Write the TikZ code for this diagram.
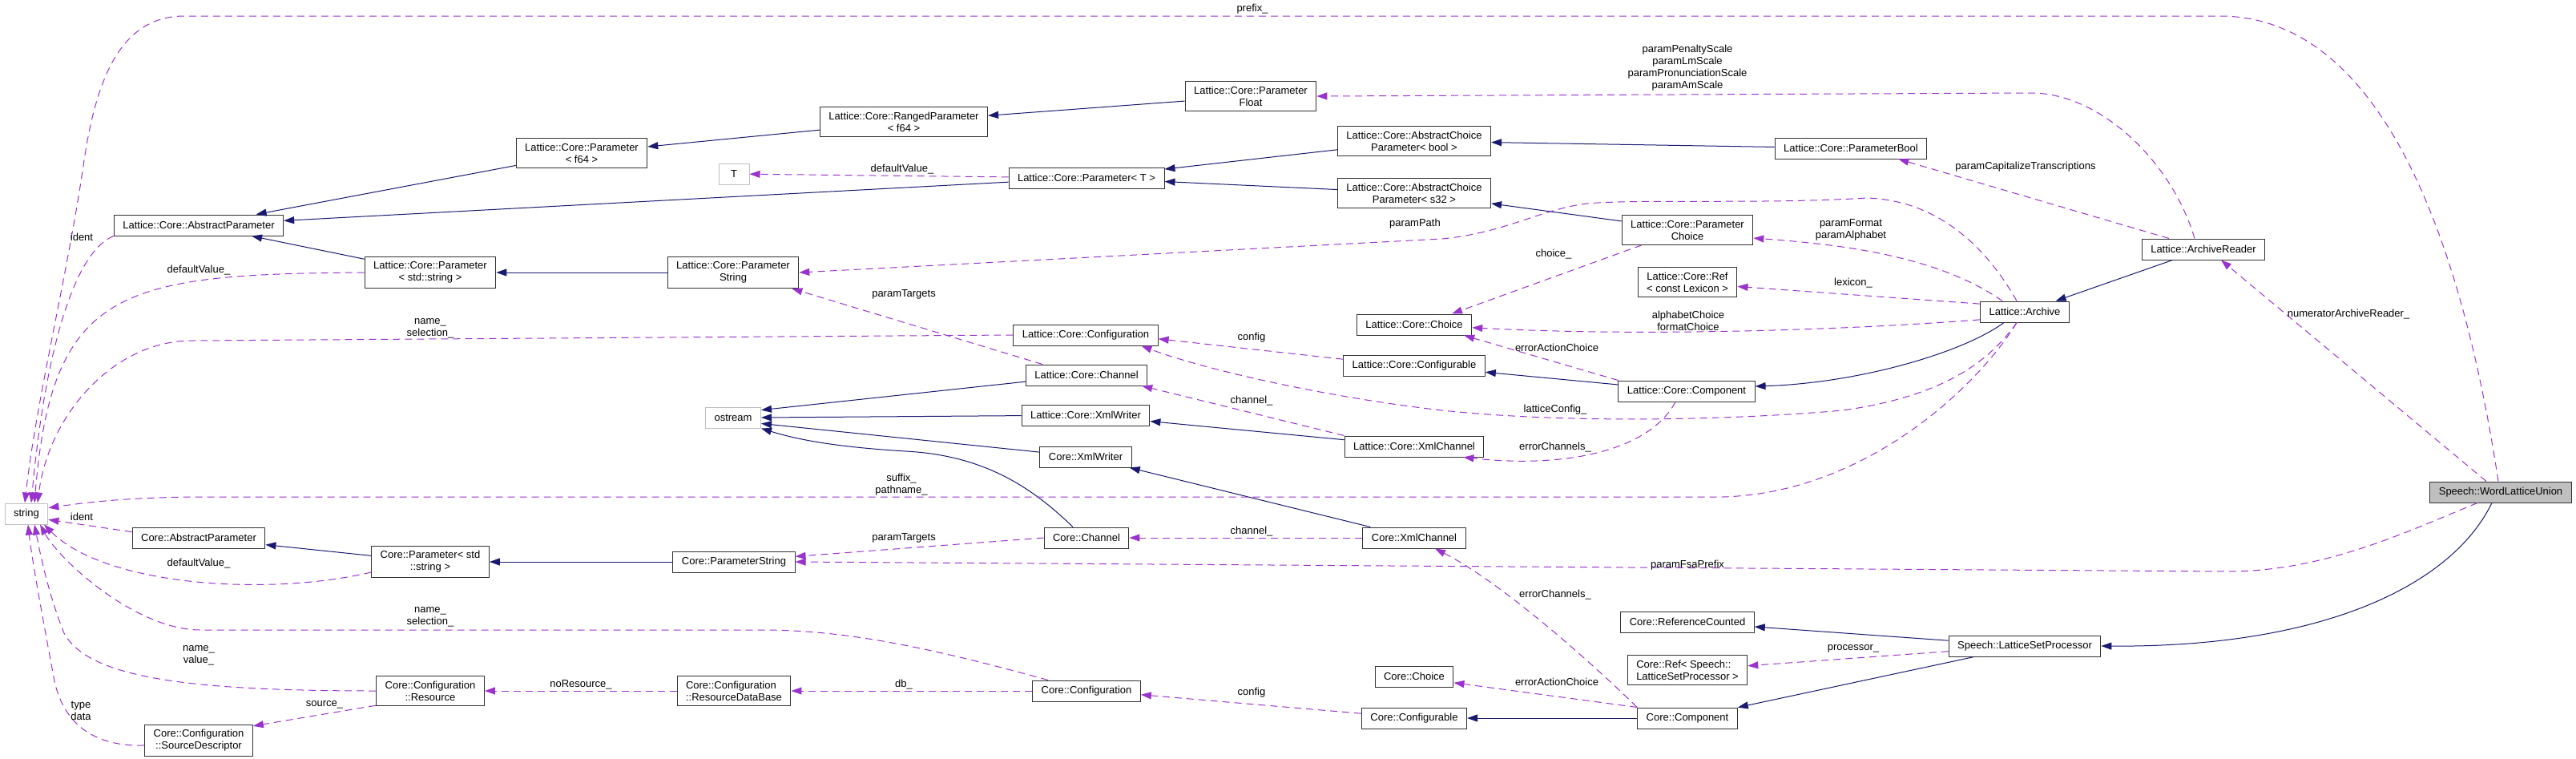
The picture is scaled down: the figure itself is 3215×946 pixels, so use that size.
\documentclass[tikz,border=0pt]{standalone}
\usepackage{fontspec}
\setmainfont{Liberation Sans}
\usetikzlibrary{arrows.meta}
\definecolor{navyedge}{RGB}{25,25,112}
\definecolor{orchid}{RGB}{154,50,205}
\definecolor{frame}{RGB}{50,50,50}
\definecolor{ghost}{RGB}{191,191,191}
\tikzset{
  cls/.style={draw=frame,fill=white,line width=1pt,inner xsep=11pt,inner ysep=6pt,
    minimum height=26pt,align=center,font=\fontsize{13}{15}\selectfont},
  ext/.style={cls,draw=ghost},
  focus/.style={cls,fill=ghost},
  inherit/.style={draw=navyedge,line width=1pt,-{Triangle[length=13pt,width=9pt]}},
  uses/.style={draw=orchid,line width=1pt,dash pattern=on 9pt off 6pt,
    -{Triangle[length=13pt,width=9pt]}},
  lbl/.style={font=\fontsize{13}{15}\selectfont,align=center,inner sep=0pt},
}

\begin{document}
\begin{tikzpicture}[x=1pt,y=-1pt]
  \useasboundingbox (0,0) rectangle (3215,946);
  % Lattice classes
  \node[cls] (latAbsParam) at (248,281) {Lattice::Core::AbstractParameter};
  \node[cls] (latParamF64) at (726,191) {Lattice::Core::Parameter\\< f64 >};
  \node[cls] (latRanged) at (1128,152) {Lattice::Core::RangedParameter\\< f64 >};
  \node[cls] (latParamFloat) at (1561,120) {Lattice::Core::Parameter\\Float};
  \node[ext,minimum width=38pt] (tType) at (916,217) {T};
  \node[cls] (latParamT) at (1356,222) {Lattice::Core::Parameter< T >};
  \node[cls] (latChoiceBool) at (1765,176) {Lattice::Core::AbstractChoice\\Parameter< bool >};
  \node[cls] (latChoiceInt) at (1765,241) {Lattice::Core::AbstractChoice\\Parameter< s32 >};
  \node[cls] (latParamBool) at (2310,185) {Lattice::Core::ParameterBool};
  \node[cls] (latParamChoice) at (2106,287) {Lattice::Core::Parameter\\Choice};
  \node[cls] (latParamStd) at (537,340) {Lattice::Core::Parameter\\< std::string >};
  \node[cls] (latParamString) at (915,340) {Lattice::Core::Parameter\\String};
  \node[cls] (latConfiguration) at (1355,418) {Lattice::Core::Configuration};
  \node[cls] (latChannel) at (1356,468) {Lattice::Core::Channel};
  \node[ext] (ostream) at (915,521) {ostream};
  \node[cls] (latXmlWriter) at (1355,518) {Lattice::Core::XmlWriter};
  \node[cls] (coreXmlWriter) at (1355,570) {Core::XmlWriter};
  \node[cls] (latRef) at (2106,352) {Lattice::Core::Ref\\< const Lexicon >};
  \node[cls] (latChoice) at (1765,405) {Lattice::Core::Choice};
  \node[cls] (latConfigurable) at (1765,456) {Lattice::Core::Configurable};
  \node[cls] (latComponent) at (2105,488) {Lattice::Core::Component};
  \node[cls] (latXmlChannel) at (1765,557) {Lattice::Core::XmlChannel};
  \node[cls] (latArchive) at (2527,389) {Lattice::Archive};
  \node[cls] (latArchiveReader) at (2750,311) {Lattice::ArchiveReader};
  \node[focus] (wordLattice) at (3121,614) {Speech::WordLatticeUnion};
  % Core classes
  \node[ext] (stdString) at (33,641) {string};
  \node[cls] (coreAbsParam) at (248,671) {Core::AbstractParameter};
  \node[cls] (coreParamStd) at (537,701) {Core::Parameter< std\\::string >};
  \node[cls] (coreResource) at (537,862) {Core::Configuration\\::Resource};
  \node[cls] (coreSource) at (248,924) {Core::Configuration\\::SourceDescriptor};
  \node[cls] (coreChannel) at (1356,671) {Core::Channel};
  \node[cls] (coreParamString) at (916,701) {Core::ParameterString};
  \node[cls,align=left] (coreResourceDB) at (916,862) {Core::Configuration\\::ResourceDataBase};
  \node[cls] (coreConfiguration) at (1356,862) {Core::Configuration};
  \node[cls] (coreXmlChannel) at (1765,671) {Core::XmlChannel};
  \node[cls] (coreRefCounted) at (2106,776) {Core::ReferenceCounted};
  \node[cls,align=left] (coreRef) at (2106,836) {Core::Ref< Speech::\\LatticeSetProcessor >};
  \node[cls] (coreChoice) at (1765,844) {Core::Choice};
  \node[cls] (coreConfigurable) at (1765,896) {Core::Configurable};
  \node[cls] (coreComponent) at (2106,896) {Core::Component};
  \node[cls] (latticeSetProc) at (2527,806) {Speech::LatticeSetProcessor};

  % inheritance
  \draw[inherit] (latParamF64) -- (latAbsParam);
  \draw[inherit] (latParamT) -- (latAbsParam);
  \draw[inherit] (latParamStd) -- (latAbsParam);
  \draw[inherit] (latRanged) -- (latParamF64);
  \draw[inherit] (latParamFloat) -- (latRanged);
  \draw[inherit] (latChoiceBool) -- (latParamT);
  \draw[inherit] (latChoiceInt) -- (latParamT);
  \draw[inherit] (latParamBool) -- (latChoiceBool);
  \draw[inherit] (latParamChoice) -- (latChoiceInt);
  \draw[inherit] (latParamString) -- (latParamStd);
  \draw[inherit] (latChannel) -- (ostream.15);
  \draw[inherit] (latXmlWriter) -- (ostream.east);
  \draw[inherit] (coreXmlWriter) -- (ostream.-12);
  \draw[inherit] ([xshift=-17pt]coreChannel.north) .. controls (1290,610) and (1230,568) .. (1130,563)
    .. controls (1050,558) and (1000,550) .. (ostream.south east);
  \draw[inherit] (latXmlChannel) -- (latXmlWriter);
  \draw[inherit] (coreXmlChannel) -- (coreXmlWriter);
  \draw[inherit] (latComponent) -- (latConfigurable);
  \draw[inherit] ([xshift=-26pt]latArchive.south) .. controls (2450,440) and (2320,478) .. (latComponent.4);
  \draw[inherit] (latArchiveReader) -- (latArchive);
  \draw[inherit] (coreParamStd) -- (coreAbsParam);
  \draw[inherit] (coreParamString) -- (coreParamStd);
  \draw[inherit] (coreComponent) -- (coreConfigurable);
  \draw[inherit] (latticeSetProc) -- (coreRefCounted);
  \draw[inherit] (latticeSetProc) -- (coreComponent);
  \draw[inherit] ([xshift=-11pt]wordLattice.south) .. controls (3060,730) and (2900,808) .. (latticeSetProc.east);

  % members
  \draw[uses] ([xshift=-3pt]wordLattice.north) .. controls (3080,350) and (2990,20) .. (2770,20) -- (230,20)
    .. controls (150,20) and (120,100) .. (105,200) .. controls (85,340) and (45,500) .. ([xshift=-2pt]stdString.north);
  \draw[uses] (latAbsParam.south west) .. controls (90,315) and (55,450) .. ([xshift=6pt]stdString.north);
  \draw[uses] (latParamStd.west) .. controls (150,342) and (65,360) .. ([xshift=10pt]stdString.north);
  \draw[uses] (latConfiguration.west) -- (240,425) .. controls (140,425) and (60,520) .. ([xshift=14pt]stdString.north);
  \draw[uses] (latParamT) -- (tType);
  \draw[uses] ([xshift=-11pt]latArchiveReader.north) .. controls (2710,200) and (2620,116) .. (2535,116) -- (latParamFloat.east);
  \draw[uses] ([xshift=-43pt]latArchiveReader.north) -- ([xshift=-36pt]latParamBool.south east);
  \draw[uses] ([xshift=-10pt]latArchive.north) .. controls (2480,310) and (2420,250) .. (2330,247)
    .. controls (2200,255) and (2050,248) .. (1980,254) .. controls (1920,262) and (1880,290) .. (1800,298)
    -- (latParamString.east);
  \draw[uses] ([xshift=-28pt]latArchive.north) .. controls (2420,320) and (2300,305) .. (latParamChoice.-7);
  \draw[uses] ([xshift=-57pt]latParamChoice.south) -- ([xshift=47pt]latChoice.north);
  \draw[uses] (latArchive.170) -- (latRef.-5);
  \draw[uses] (latArchive.-170) .. controls (2300,412) and (2050,420) .. (latChoice.-3);
  \draw[uses] (latComponent.north west) -- ([xshift=-10pt]latChoice.south east);
  \draw[uses] (latConfigurable.175) -- (latConfiguration.-3);
  \draw[uses] ([xshift=-10pt]latArchive.south) .. controls (2480,455) and (2420,495) .. (2300,512)
    .. controls (2150,525) and (1950,528) .. (1800,512) .. controls (1650,495) and (1500,460) .. (latConfiguration.-11);
  \draw[uses] ([xshift=-55pt]latChannel.north) -- ([xshift=-9pt]latParamString.south east);
  \draw[uses] (latXmlChannel.north west) -- ([xshift=-7pt]latChannel.south east);
  \draw[uses] ([xshift=-14pt]latComponent.south) .. controls (2060,560) and (1960,585) .. ([xshift=-26pt]latXmlChannel.south east);
  \draw[uses] ([xshift=-10pt]latArchive.south) .. controls (2470,480) and (2330,615) .. (2150,620) -- (240,620)
    .. controls (150,621) and (100,628) .. (stdString.15);
  \draw[uses] ([xshift=-18pt]wordLattice.north) -- ([xshift=22pt]latArchiveReader.south);
  \draw[uses] ([xshift=-29pt]wordLattice.south) .. controls (3000,665) and (2900,713) .. (2780,713) -- (coreParamString.east);
  \draw[uses] (coreChannel.west) -- (coreParamString.5);
  \draw[uses] (coreXmlChannel.west) -- (coreChannel.east);
  \draw[uses] (coreComponent.north west) .. controls (2000,840) and (1880,730) .. ([xshift=26pt]coreXmlChannel.south);
  \draw[uses] (coreComponent.north west) -- (coreChoice.-9);
  \draw[uses] (coreConfigurable.175) -- (coreConfiguration.-4);
  \draw[uses] (coreConfiguration.west) -- (coreResourceDB.east);
  \draw[uses] ([xshift=-48pt]coreConfiguration.north) .. controls (1150,805) and (1050,786) .. (950,786) -- (250,786)
    .. controls (170,786) and (75,700) .. ([xshift=17pt]stdString.south);
  \draw[uses] (coreAbsParam.175) -- (stdString.-15);
  \draw[uses] (coreParamStd.-170) .. controls (330,745) and (130,730) .. ([xshift=22pt]stdString.south);
  \draw[uses] (coreResource.west) .. controls (230,862) and (110,845) .. (80,790)
    .. controls (60,740) and (50,690) .. ([xshift=10pt]stdString.south);
  \draw[uses] (coreResourceDB.west) -- (coreResource.east);
  \draw[uses] (coreResource.-165) -- (coreSource.15);
  \draw[uses] (coreSource.-175) .. controls (120,932) and (80,905) .. (68,850)
    .. controls (55,780) and (40,700) .. ([xshift=2pt]stdString.south);
  \draw[uses] (latticeSetProc.-176) -- (coreRef.4);

  % member names
  \foreach \x/\y/\t [count=\i] in {1563/11/prefix\_, 102/296/ident, 248/337/defaultValue\_,
      537/410/name\_\\selection\_, 1126/211/defaultValue\_,
      2106/85/paramPenaltyScale\\paramLmScale\\paramPronunciationScale\\paramAmScale,
      2528/208/paramCapitalizeTranscriptions, 1766/279/paramPath, 2310/287/paramFormat\\paramAlphabet,
      1939/317/choice\_, 2313/353/lexicon\_, 2107/400/alphabetChoice\\formatChoice,
      1943/434/errorActionChoice, 1562/421/config, 1941/511/latticeConfig\_, 1128/367/paramTargets,
      1562/500/channel\_, 1941/558/errorChannels\_, 1125/605/suffix\_\\pathname\_,
      2931/392/numeratorArchiveReader\_, 2106/705/paramFsaPrefix, 1128/671/paramTargets,
      1562/663/channel\_, 1941/742/errorChannels\_, 1943/851/errorActionChoice, 1562/864/config,
      1128/854/db\_, 537/770/name\_\\selection\_, 102/645/ident, 248/703/defaultValue\_,
      248/818/name\_\\value\_, 725/854/noResource\_, 405/879/source\_, 101/887/type\\data,
      2313/809/processor\_}
    \node[lbl] (tag\i) at (\x,\y) {\t};
\end{tikzpicture}
\end{document}
